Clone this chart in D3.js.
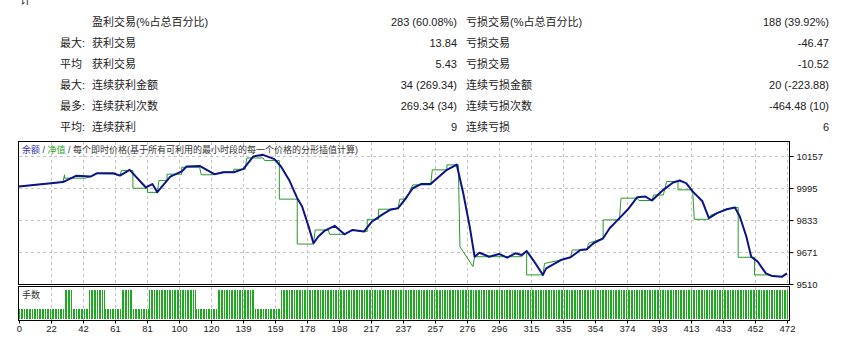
<!DOCTYPE html>
<html>
<head>
<meta charset="utf-8">
<script src="https://cdn.jsdelivr.net/npm/d3@7"></script>
<style>
  body { margin: 0; background: #fff; }
  svg { display: block; }
  text { font-family: "Liberation Sans", Arial, "Noto Sans CJK SC", sans-serif; }
</style>
</head>
<body>
<svg id="chart" width="845" height="342"></svg>
<script>
// stats table
const statPrefixes = ["", "最大:", "平均\u00a0", "最大:", "最多:", "平均:"];
const winLabels = ["盈利交易(%占总百分比)", "获利交易", "获利交易", "连续获利金额", "连续获利次数", "连续获利"];
const winValues = ["283 (60.08%)", "13.84", "5.43", "34 (269.34)", "269.34 (34)", "9"];
const lossLabels = ["亏损交易(%占总百分比)", "亏损交易", "亏损交易", "连续亏损金额", "连续亏损次数", "连续亏损"];
const lossValues = ["188 (39.92%)", "-46.47", "-10.52", "20 (-223.88)", "-464.48 (10)", "6"];

// [trade number, balance]
const balancePoints = [
  [0, 10003], [27, 10025], [35, 10057], [44, 10053], [48, 10070], [58, 10070],
  [62, 10058], [68, 10087], [78, 9998], [82, 10015], [85, 9974], [93, 10053],
  [100, 10079], [103, 10104], [111, 10107], [120, 10065], [126, 10075], [132, 10075],
  [138, 10092], [144, 10155], [150, 10163], [157, 10141], [161, 10104], [166, 10036],
  [171, 9944], [174, 9902], [178, 9800], [181, 9716], [184, 9750], [188, 9780],
  [194, 9804], [200, 9761], [205, 9783], [212, 9775], [217, 9826], [223, 9859],
  [228, 9885], [233, 9893], [237, 9935], [242, 9994], [247, 10015], [253, 10015],
  [257, 10045], [263, 10087], [269, 10114], [273, 9970], [277, 9800], [280, 9648],
  [283, 9668], [289, 9648], [295, 9662], [300, 9643], [305, 9665], [309, 9657],
  [312, 9677], [316, 9631], [322, 9556], [324, 9589], [333, 9631], [339, 9645],
  [345, 9682], [349, 9686], [353, 9716], [359, 9741], [363, 9792], [368, 9834],
  [374, 9885], [380, 9949], [385, 9952], [389, 9932], [396, 9986], [402, 10023],
  [406, 10033], [410, 10020], [414, 9978], [420, 9928], [424, 9843], [429, 9868],
  [435, 9888], [440, 9897], [443, 9851], [447, 9750], [450, 9648], [454, 9623],
  [459, 9564], [463, 9550], [469, 9547], [472, 9564]
];

// [trade number, equity]
const equityPoints = [
  [0, 10003], [27, 10025], [28, 10062], [28, 10045], [41, 10045], [44, 10053],
  [48, 10068], [58, 10066], [62, 10058], [63, 10084], [70, 10084], [70, 9994],
  [79, 9994], [79, 9973], [85, 9973], [86, 10033], [91, 10033], [91, 10065],
  [100, 10065], [100, 10100], [111, 10100], [112, 10062], [119, 10062], [125, 10077],
  [132, 10077], [132, 10090], [139, 10090], [140, 10147], [150, 10147], [151, 10134],
  [160, 10134], [160, 9939], [171, 9939], [171, 9712], [181, 9712], [182, 9783],
  [190, 9783], [191, 9761], [200, 9761], [205, 9783], [211, 9775], [214, 9775],
  [214, 9837], [221, 9837], [221, 9888], [228, 9888], [233, 9893], [234, 9939],
  [238, 9939], [242, 10011], [253, 10011], [254, 10087], [263, 10087], [263, 10112],
  [270, 10112], [271, 9699], [279, 9598], [280, 9648], [309, 9648], [312, 9677],
  [312, 9556], [322, 9556], [323, 9614], [333, 9631], [339, 9645], [340, 9682],
  [349, 9682], [350, 9716], [359, 9741], [359, 9834], [369, 9834], [370, 9944],
  [380, 9944], [381, 9932], [389, 9932], [390, 9960], [396, 9960], [398, 10028],
  [405, 10028], [405, 9986], [414, 9986], [415, 9837], [424, 9837], [425, 9858],
  [429, 9868], [435, 9888], [440, 9897], [442, 9897], [442, 9645], [452, 9645],
  [452, 9556], [460, 9556], [463, 9550], [469, 9547], [472, 9564]
];

// lots per trade, as runs [first trade, last trade, lots]
const lotRuns = [
  [0, 27, 1], [28, 32, 2], [33, 42, 1], [43, 52, 2], [53, 62, 1], [63, 69, 2],
  [70, 79, 1], [80, 108, 2], [109, 121, 1], [122, 144, 2], [145, 160, 1], [161, 472, 2]
];

const yTickValues = [9510, 9671, 9833, 9995, 10157];
const xTickLabels = ["0", "22", "42", "61", "81", "100", "120", "139", "159", "178", "198", "217",
  "237", "257", "276", "296", "315", "335", "354", "374", "393", "413", "433", "452", "472"];

const balanceColor = "#0c1488";
const equityColor = "#2a9a2a";
const barColor = "#1eaa1e";
const gridColor = "#c4c4c4";
const textColor = "#222";

const frameLeft = 18.5;
const frameRight = 789.5;
const mainTop = 141.5;
const mainBottom = 284.5;
const volTop = 286.5;
const volBottom = 320.5;

const svg = d3.select("#chart");

const x = d3.scaleLinear().domain([0, 472]).range([19, 787]);
const y = d3.scaleLinear().domain([9510, 10157]).range([284, 156]);
const yLots = d3.scaleLinear().domain([0.5, 2]).range([319, 290]);
const xTicks = d3.scalePoint().domain(xTickLabels).range([19, 787]);

// ---- stats table
const rowY = (i) => 25.5 + i * 21;
const table = svg.append("g").attr("font-size", 11).attr("fill", textColor);

// partly hidden heading above the table, as in the original
table.append("text").attr("x", 20).attr("y", 4).text("计");

statPrefixes.forEach((p, i) => {
  table.append("text").attr("x", 85).attr("y", rowY(i)).attr("text-anchor", "end").text(p);
  table.append("text").attr("x", 92).attr("y", rowY(i)).text(winLabels[i]);
  table.append("text").attr("x", 457).attr("y", rowY(i)).attr("text-anchor", "end").text(winValues[i]);
  table.append("text").attr("x", 466).attr("y", rowY(i)).text(lossLabels[i]);
  table.append("text").attr("x", 829).attr("y", rowY(i)).attr("text-anchor", "end").text(lossValues[i]);
});

// ---- grid
const grid = svg.append("g")
  .attr("stroke", gridColor)
  .attr("stroke-dasharray", "3,3")
  .attr("shape-rendering", "crispEdges");

grid.selectAll(".vgrid-main")
  .data(xTickLabels.slice(1))
  .enter()
  .append("line")
  .attr("x1", (d) => Math.round(xTicks(d)) + 0.5)
  .attr("x2", (d) => Math.round(xTicks(d)) + 0.5)
  .attr("y1", mainTop)
  .attr("y2", mainBottom);

grid.selectAll(".vgrid-vol")
  .data(xTickLabels.slice(1))
  .enter()
  .append("line")
  .attr("x1", (d) => Math.round(xTicks(d)) + 0.5)
  .attr("x2", (d) => Math.round(xTicks(d)) + 0.5)
  .attr("y1", volTop)
  .attr("y2", volBottom);

grid.selectAll(".hgrid")
  .data(yTickValues.slice(1))
  .enter()
  .append("line")
  .attr("x1", frameLeft)
  .attr("x2", frameRight)
  .attr("y1", (d) => Math.round(y(d)) + 0.5)
  .attr("y2", (d) => Math.round(y(d)) + 0.5);

// ---- lots bars
const lots = [];
lotRuns.forEach(([a, b, v]) => {
  for (let i = a; i <= b; i++) lots.push({ trade: i, lots: v });
});

svg.append("g")
  .attr("fill", barColor)
  .attr("shape-rendering", "crispEdges")
  .selectAll("rect")
  .data(lots)
  .enter()
  .append("rect")
  .attr("x", (d) => Math.round(x(d.trade)))
  .attr("width", 1)
  .attr("y", (d) => yLots(d.lots))
  .attr("height", (d) => yLots.range()[0] - yLots(d.lots));

// ---- balance / equity lines
svg.append("clipPath").attr("id", "main-clip")
  .append("rect")
  .attr("x", frameLeft).attr("y", mainTop)
  .attr("width", frameRight - frameLeft).attr("height", mainBottom - mainTop);

const line = d3.line().x((d) => x(d[0])).y((d) => y(d[1]));

const lines = svg.append("g").attr("clip-path", "url(#main-clip)").attr("fill", "none");
lines.append("path")
  .datum(equityPoints)
  .attr("stroke", equityColor)
  .attr("stroke-width", 1)
  .attr("d", line);
lines.append("path")
  .datum(balancePoints)
  .attr("stroke", balanceColor)
  .attr("stroke-width", 2)
  .attr("stroke-linejoin", "round")
  .attr("d", line);

// ---- frames
const frames = svg.append("g")
  .attr("fill", "none")
  .attr("stroke", "#000")
  .attr("shape-rendering", "crispEdges");
frames.append("rect")
  .attr("x", frameLeft).attr("y", mainTop)
  .attr("width", frameRight - frameLeft).attr("height", mainBottom - mainTop);
frames.append("rect")
  .attr("x", frameLeft).attr("y", volTop)
  .attr("width", frameRight - frameLeft).attr("height", volBottom - volTop);

// ---- axes
const yAxis = svg.append("g")
  .attr("transform", `translate(${frameRight}, 0)`)
  .call(d3.axisRight(y).tickValues(yTickValues).tickFormat(d3.format("d")).tickSize(4).tickPadding(3));
yAxis.select(".domain").remove();
yAxis.selectAll("text")
  .attr("font-family", "Liberation Sans, Arial, sans-serif")
  .attr("font-size", 9.5)
  .attr("fill", textColor);

const xAxis = svg.append("g")
  .attr("transform", `translate(0, ${volBottom})`)
  .call(d3.axisBottom(xTicks).tickSize(3).tickPadding(2));
xAxis.select(".domain").remove();
xAxis.selectAll("text")
  .attr("font-family", "Liberation Sans, Arial, sans-serif")
  .attr("font-size", 9.5)
  .attr("fill", textColor);

// ---- panel captions
const title = svg.append("text")
  .attr("x", 22)
  .attr("y", 153)
  .attr("font-size", 9)
  .attr("fill", "#333");
title.append("tspan").attr("fill", "#3535a8").text("余额");
title.append("tspan").text(" / ");
title.append("tspan").attr("fill", "#27a827").text("净值");
title.append("tspan").text(" / 每个即时价格(基于所有可利用的最小时段的每一个价格的分形插值计算)");

svg.append("text")
  .attr("x", 22)
  .attr("y", 298)
  .attr("font-size", 9)
  .attr("fill", "#333")
  .text("手数");
</script>
</body>
</html>
